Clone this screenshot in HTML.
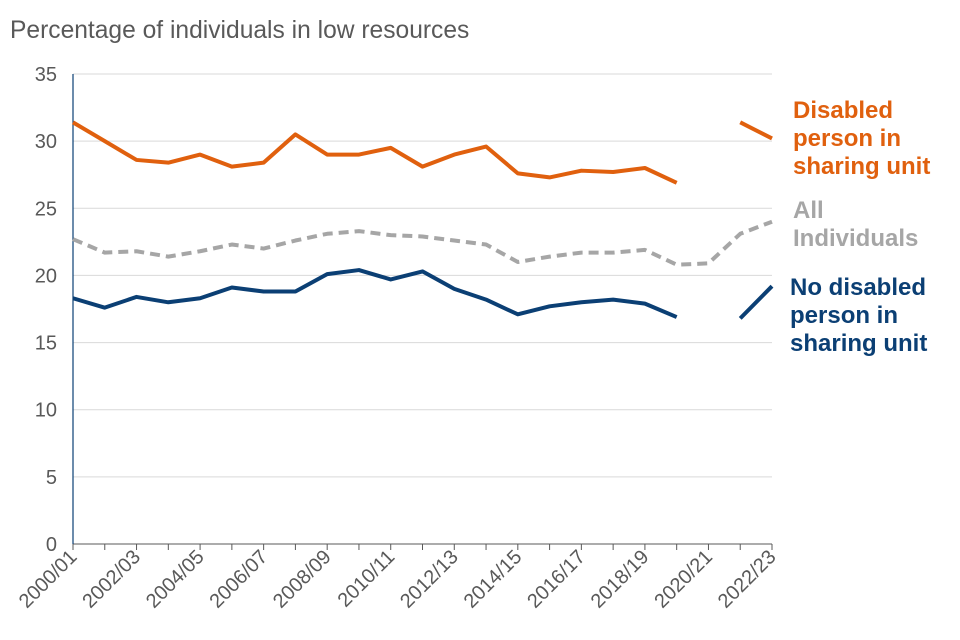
<!DOCTYPE html>
<html><head><meta charset="utf-8"><style>
body{margin:0;background:#fff;}
svg{display:block;font-family:"Liberation Sans",Arial,sans-serif;}
</style></head><body>
<svg id="chart" width="960" height="640" viewBox="0 0 960 640">
<text x="10" y="38" font-size="24.6" fill="#595959">Percentage of individuals in low resources</text>
<g id="grid"></g><g id="xaxis"></g><g id="lines"></g>
<g font-weight="bold" font-size="24">
<text x="793" y="118" fill="#e0600e"><tspan x="793">Disabled</tspan><tspan x="793" dy="28">person in</tspan><tspan x="793" dy="28">sharing unit</tspan></text>
<text x="793" y="218" fill="#a6a6a6"><tspan x="793">All</tspan><tspan x="793" dy="28">Individuals</tspan></text>
<text x="790" y="295" fill="#0b3f74"><tspan x="790">No disabled</tspan><tspan x="790" dy="28">person in</tspan><tspan x="790" dy="28">sharing unit</tspan></text>
</g>
</svg>
<script>
const categories=["2000/01","2001/02","2002/03","2003/04","2004/05","2005/06","2006/07","2007/08","2008/09","2009/10","2010/11","2011/12","2012/13","2013/14","2014/15","2015/16","2016/17","2017/18","2018/19","2019/20","2020/21","2021/22","2022/23"];
const disabled=[31.4,30.0,28.6,28.4,29.0,28.1,28.4,30.5,29.0,29.0,29.5,28.1,29.0,29.6,27.6,27.3,27.8,27.7,28.0,26.9,null,31.4,30.2];
const allInd=[22.7,21.7,21.8,21.4,21.8,22.3,22.0,22.6,23.1,23.3,23.0,22.9,22.6,22.3,21.0,21.4,21.7,21.7,21.9,20.8,20.9,23.1,24.0];
const noDisabled=[18.3,17.6,18.4,18.0,18.3,19.1,18.8,18.8,20.1,20.4,19.7,20.3,19.0,18.2,17.1,17.7,18.0,18.2,17.9,16.9,null,16.8,19.2];
const yTicks=[0,5,10,15,20,25,30,35];
const NS="http://www.w3.org/2000/svg";
const x0=73,x1=772,y0=544,y1=74;
const xs=i=>x0+(x1-x0)*i/(categories.length-1);
const ys=v=>y0-(y0-y1)*v/35;
function mk(t,a,p){const e=document.createElementNS(NS,t);for(const k in a)e.setAttribute(k,a[k]);p.appendChild(e);return e;}
const grid=document.getElementById('grid');
yTicks.forEach(v=>{
 if(v>0){const l=mk('line',{x1:x0,x2:x1,y1:ys(v),y2:ys(v),stroke:'#d9d9d9','stroke-width':1},grid);
 
 }
 const t=mk('text',{x:57,y:ys(v)+7,'text-anchor':'end','font-size':20,fill:'#595959'},grid);t.textContent=v;
 
 
});
const xa=document.getElementById('xaxis');
const ax=mk('line',{x1:x0,x2:x1,y1:y0,y2:y0,stroke:'#595959','stroke-width':1},xa);


const yax=mk('line',{x1:x0,x2:x0,y1:y1,y2:y0,stroke:'#0b3f74','stroke-width':1.2},xa);


categories.forEach((c,i)=>{
 mk('line',{x1:xs(i),x2:xs(i),y1:y0,y2:y0+6,stroke:'#595959'},xa);
 if(i%2==0){const t=mk('text',{x:xs(i)+5,y:y0+14,'text-anchor':'end','font-size':20,fill:'#595959',transform:`rotate(-45 ${xs(i)+5} ${y0+14})`},xa);t.textContent=c;
 
 }
});
const lines=document.getElementById('lines');
function draw(data,color,dash,name){
 let d='',pen=false;
 data.forEach((v,i)=>{if(v==null){pen=false;return;}d+=(pen?'L':'M')+xs(i)+' '+ys(v)+' ';pen=true;});
 const p=mk('path',{d:d,fill:'none',stroke:color,'stroke-width':4,'stroke-linejoin':'round','stroke-dasharray':dash||'none'},lines);
 
 
}
draw(allInd,'#a6a6a6','10 6','series-all-individuals');
draw(noDisabled,'#0b3f74',null,'series-no-disabled');
draw(disabled,'#e0600e',null,'series-disabled');
</script>
</body></html>
